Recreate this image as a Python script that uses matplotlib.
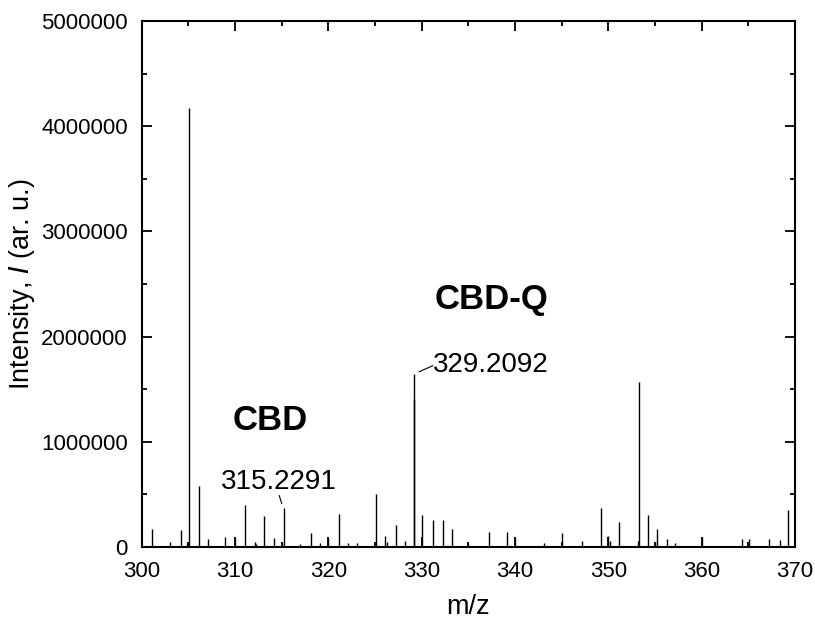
import matplotlib
matplotlib.use("Agg")
import matplotlib.pyplot as plt
from matplotlib.ticker import MultipleLocator

plt.rcParams['font.family'] = ['Liberation Sans', 'DejaVu Sans']

# Peak positions (m/z) and intensities
mz = [301.1, 303.07, 304.2, 304.9, 305.1, 306.1, 307.1, 308.9, 309.96, 311.1,
      312.1, 312.25, 313.1, 314.2, 315.0, 315.2, 316.96, 318.17, 319.1, 319.96,
      321.1, 322.1, 323.1, 325.1, 326.07, 326.3, 327.2, 328.2, 329.15, 329.21,
      330.07, 331.2, 332.3, 333.2, 335.0, 337.2, 339.14, 339.96, 343.07, 345.07,
      347.2, 349.18, 349.93, 350.18, 351.17, 353.17, 353.28, 354.25, 354.96, 355.2,
      356.25, 357.14, 360.0, 364.3, 365.1, 367.2, 368.4, 369.2]
intensity = [171000, 45000, 159000, 40000, 4170000, 580000, 73000, 92000, 90000, 400000,
             50000, 30000, 298000, 83000, 40000, 368000, 25000, 133000, 35000, 85000,
             317000, 35000, 40000, 503000, 100000, 50000, 212000, 60000, 1410000, 1640000,
             300000, 260000, 253000, 174000, 40000, 146000, 146000, 90000, 38000, 137000,
             60000, 367000, 100000, 55000, 238000, 60000, 1565000, 304000, 50000, 171000,
             80000, 40000, 92000, 72000, 72000, 78000, 65000, 349000]

x_ticks = [300, 310, 320, 330, 340, 350, 360, 370]
y_ticks = [0, 1000000, 2000000, 3000000, 4000000, 5000000]
x_label = "m/z"
y_label = "Intensity, $\\mathit{I}$ (ar. u.)"

fig = plt.figure(figsize=(8.15, 6.19), dpi=100)
ax = fig.add_axes([0.1739, 0.1163, 0.8016, 0.8497])

ax.vlines(mz, 0, intensity, color='black', linewidth=1.0)

ax.set_xlim(300, 370)
ax.set_ylim(0, 5000000)
ax.set_xticks(x_ticks)
ax.set_yticks(y_ticks)
ax.set_xticklabels([str(t) for t in x_ticks])
ax.set_yticklabels([str(t) for t in y_ticks])
ax.xaxis.set_minor_locator(MultipleLocator(5))
ax.yaxis.set_minor_locator(MultipleLocator(500000))
ax.tick_params(which='both', direction='in', top=True, right=True, width=1.3)
ax.tick_params(which='major', length=7, labelsize=16, pad=10)
ax.tick_params(which='minor', length=3.5)
for s in ax.spines.values():
    s.set_linewidth(1.5)

ax.set_xlabel(x_label, fontsize=19.5, labelpad=9)
ax.set_ylabel(y_label, fontsize=19.5, labelpad=3)

# Annotations
ax.text(313.75, 1198000, "CBD", fontsize=25, fontweight='bold', ha='center', va='center')
ax.text(314.7, 618000, "315.2291", fontsize=20, ha='center', va='center')
ax.plot([314.74, 315.0], [488000, 415000], color='black', linewidth=0.8)
ax.text(337.5, 2357000, "CBD-Q", fontsize=25, fontweight='bold', ha='center', va='center')
ax.text(331.2, 1730000, "329.2092", fontsize=20, ha='left', va='center')
ax.plot([329.72, 331.18], [1666000, 1723000], color='black', linewidth=0.8)

fig.savefig("out.png", dpi=100)
